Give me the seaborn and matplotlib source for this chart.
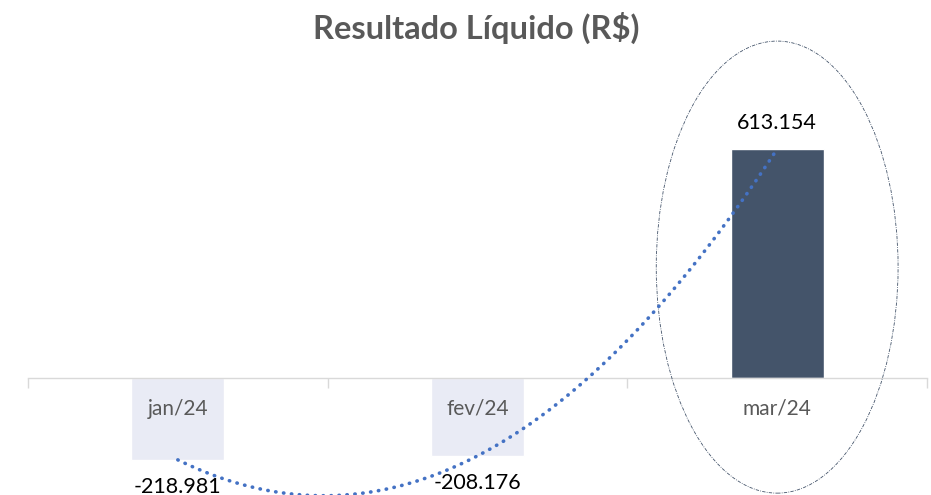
import numpy as np
import pandas as pd
import seaborn as sns
import matplotlib.pyplot as plt
from matplotlib.patches import Ellipse

# Dados do gráfico
meses = ["jan/24", "fev/24", "mar/24"]
resultado = [-218981, -208176, 613154]
rotulos = ["-218.981", "-208.176", "613.154"]

df = pd.DataFrame({"mes": meses, "valor": resultado})
cores = ["#E9EBF5" if v < 0 else "#44546A" for v in resultado]

sns.set_theme(style="white")
plt.rcParams["font.family"] = ["Lato", "DejaVu Sans"]

fig = plt.figure(figsize=(9.31, 4.95), dpi=100)
ax = fig.add_axes([28 / 931, 0, 899 / 931, 1])

sns.barplot(data=df, x="mes", y="valor", hue="mes", palette=cores,
            legend=False, width=0.31, saturation=1, ax=ax)

ax.set_xlim(-0.5, 2.5)
ax.set_ylim(-313000, 1012000)

# linha de tendência polinomial (ordem 2)
coef = np.polyfit(range(len(resultado)), resultado, 2)
xs = np.linspace(0, len(resultado) - 1, 200)
ax.plot(xs, np.polyval(coef, xs), color="#4472C4", linewidth=2.6,
        linestyle=(0, (0.1, 2.1)), dash_capstyle="round", zorder=4)

# eixo em zero
for s in ["top", "right", "left"]:
    ax.spines[s].set_visible(False)
ax.spines["bottom"].set_position(("data", 0))
ax.spines["bottom"].set_color("#D9D9D9")
ax.spines["bottom"].set_linewidth(1)
ax.set_xticks([-0.5, 0.5, 1.5, 2.5])
ax.set_xticklabels([])
ax.tick_params(axis="x", bottom=True, length=7, width=1, color="#D9D9D9",
               direction="out")
ax.set_yticks([])
ax.set_xlabel("")
ax.set_ylabel("")

# rótulos das categorias e valores
for i, (m, v, r) in enumerate(zip(meses, resultado, rotulos)):
    ax.text(i, -82000, m, ha="center", va="center", fontsize=15,
            color="#595959", zorder=5)
    if v >= 0:
        ax.text(i, v + 70000, r, ha="center", va="center", fontsize=15.5,
                color="black", zorder=5)
    else:
        ax.text(i, v - 72000, r, ha="center", va="center", fontsize=15.5,
                color="black", zorder=5)

# destaque em elipse no último mês
ax.add_patch(Ellipse((2, 297000), 0.807, 1210000, fill=False,
                     edgecolor="#44546A", linewidth=0.6,
                     linestyle=(0, (4, 1.5, 1, 1.5)), zorder=3))

fig.text(476 / 931, 1 - 28 / 495, "Resultado Líquido (R$)", ha="center",
         va="center", fontsize=23.5, fontweight="bold", color="#595959")

fig.savefig("out.png", dpi=100)
